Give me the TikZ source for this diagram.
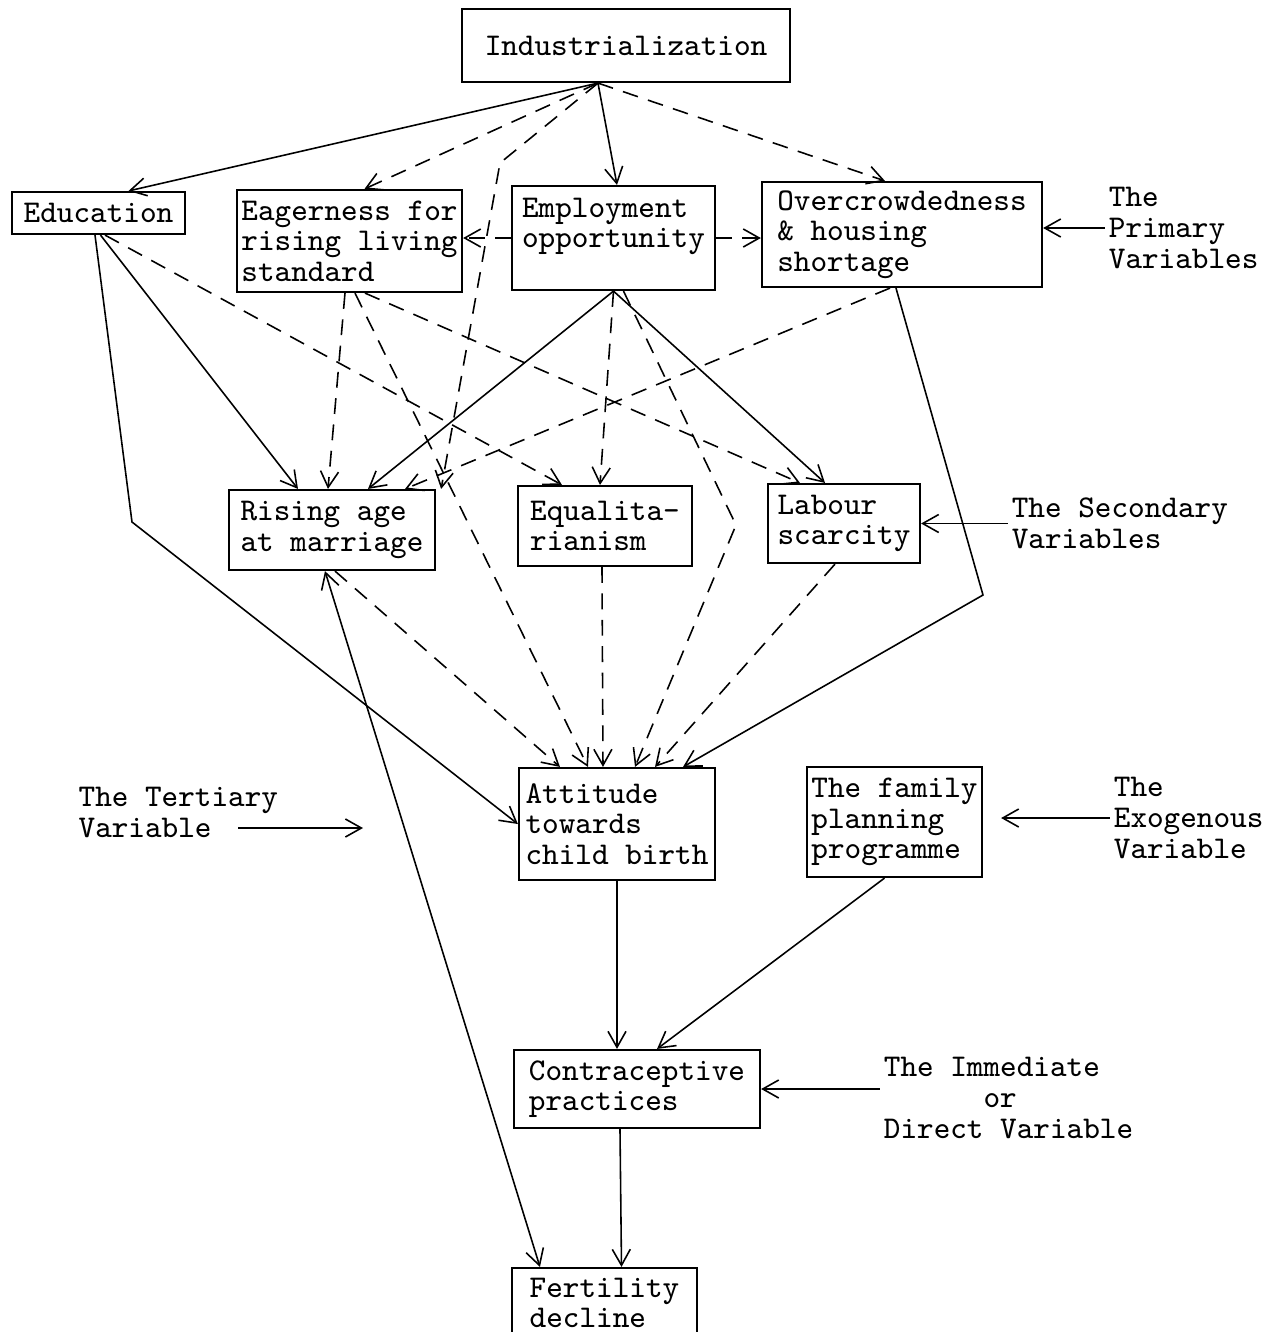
\documentclass[tikz,border=0pt]{standalone}
\usetikzlibrary{arrows.meta,positioning}

\begin{document}
\begin{tikzpicture}[x=0.01cm,y=-0.01cm,
    >={Straight Barb[length=1.6mm,width=1.8mm]},
    font=\ttfamily\fontsize{9}{8.7}\selectfont,
    box/.style={draw,line width=0.6pt,inner sep=0pt,align=left},
    varlabel/.style={inner sep=1pt,align=left},
    link/.style={->,line width=0.45pt},
    dlink/.style={->,line width=0.45pt,dash pattern=on 4.5pt off 3pt}]
    \clip (0,0) rectangle (1281,1332);

    % Define boxes
    \node[box,minimum width=3.28cm,minimum height=0.73cm] (ind) at (626,45.5) {Industrialization};
    \node[box,minimum width=1.73cm,minimum height=0.42cm] (edu) at (98.5,213) {Education};
    \node[box,minimum width=2.25cm,minimum height=1.02cm] (eag) at (349.5,241) {Eagerness for\\rising living\\standard};
    \node[box,minimum width=2.03cm,minimum height=1.04cm] (emp) at (613.5,238) {Employment\\opportunity\\\mbox{}};
    \node[box,minimum width=2.80cm,minimum height=1.05cm] (ovc) at (902,234.5) {Overcrowdedness\\\& housing\\shortage};
    \node[box,minimum width=2.06cm,minimum height=0.80cm] (ris) at (332,530) {Rising age\\at marriage};
    \node[box,minimum width=1.74cm,minimum height=0.80cm] (equ) at (605,526) {Equalita-\\rianism};
    \node[box,minimum width=1.52cm,minimum height=0.79cm] (lab) at (844,523.5) {Labour\\scarcity};
    \node[box,minimum width=1.96cm,minimum height=1.12cm] (att) at (617,824) {Attitude\\towards\\child birth};
    \node[box,minimum width=1.75cm,minimum height=1.10cm] (fam) at (894.5,822) {The family\\planning\\programme};
    \node[box,minimum width=2.46cm,minimum height=0.78cm] (con) at (637,1089) {Contraceptive\\practices};
    \node[box,minimum width=1.85cm,minimum height=0.70cm] (fer) at (604.5,1303) {Fertility\\decline};

    % Variable labels
    \node[varlabel,right=0.615cm of ovc,yshift=0.065cm] (prim) {The\\Primary\\Variables};
    \node[varlabel,right=0.865cm of lab] (sec) {The Secondary\\Variables};
    \node[varlabel,left=2.355cm of att,yshift=0.115cm] (tert) {The Tertiary\\Variable};
    \node[varlabel,right=1.265cm of fam,yshift=0.04cm] (exo) {The\\Exogenous\\Variable};
    \node[varlabel,right=1.185cm of con,yshift=-0.09cm] (imm) {The Immediate\\\phantom{The Im}or\\Direct Variable};

    % Bend points
    \coordinate (bendI) at (500,163);
    \coordinate (bendE) at (132,522);
    \coordinate (bendM) at (736,525);
    \coordinate (bendO) at (983,595);
    \coordinate (tstart) at (238,828);
    \coordinate (tend) at (363,828);

    % Draw solid links
    \draw[link] ([xshift=-0.28cm]ind.south) -- ([xshift=0.3cm]edu.north);
    \draw[link] ([xshift=-0.28cm]ind.south) -- ([xshift=0.035cm]emp.north);
    \draw[link] ([xshift=-0.035cm]edu.south) -- (bendE) -- (att.west);
    \draw[link] ([xshift=0.02cm]edu.south) -- ([xshift=-0.34cm]ris.north);
    \draw[link] (emp.south) -- ([xshift=0.36cm]ris.north);
    \draw[link] (emp.south) -- ([xshift=-0.19cm]lab.north);
    \draw[link] ([xshift=-0.06cm]ovc.south) -- (bendO) -- ([xshift=0.66cm]att.north);
    \draw[link,<->] ([xshift=-0.07cm]ris.south) -- ([xshift=-0.645cm]fer.north);
    \draw[link] (att.south) -- (att.south |- con.north);
    \draw[link] ([xshift=-0.1cm]fam.south) -- ([xshift=0.2cm]con.north);
    \draw[link] ([xshift=-0.17cm]con.south) -- ([xshift=0.17cm]fer.north);

    % Draw dashed links
    \draw[dlink] ([xshift=-0.28cm]ind.south) -- ([xshift=0.15cm]eag.north);
    \draw[dlink] ([xshift=-0.28cm]ind.south) -- (bendI) -- ([xshift=0.05cm]ris.north east);
    \draw[dlink] ([xshift=-0.28cm]ind.south) -- ([xshift=-0.17cm]ovc.north);
    \draw[dlink] (emp.west) -- (emp.west -| eag.east);
    \draw[dlink] (emp.east) -- (emp.east -| ovc.west);
    \draw[dlink] ([xshift=0.065cm]edu.south) -- ([xshift=-0.43cm]equ.north);
    \draw[dlink] ([xshift=-0.045cm]eag.south) -- ([xshift=-0.04cm]ris.north);
    \draw[dlink] ([xshift=0.055cm]eag.south) -- ([xshift=-0.29cm]att.north);
    \draw[dlink] ([xshift=0.155cm]eag.south) -- ([xshift=-0.44cm]lab.north);
    \draw[dlink] (emp.south) -- ([xshift=-0.05cm]equ.north);
    \draw[dlink] ([xshift=0.1cm]emp.south) -- (bendM) -- ([xshift=0.18cm]att.north);
    \draw[dlink] ([xshift=-0.12cm]ovc.south) -- ([xshift=0.73cm]ris.north);
    \draw[dlink] ([xshift=0.03cm]ris.south) -- ([xshift=-0.57cm]att.north);
    \draw[dlink] ([xshift=-0.03cm]equ.south) -- ([xshift=-0.14cm]att.north);
    \draw[dlink] ([xshift=-0.09cm]lab.south) -- ([xshift=0.38cm]att.north);

    % Label arrows
    \draw[link] (prim.west) -- (prim.west -| ovc.east);
    \draw[link] (sec.west) -- (sec.west -| lab.east);
    \draw[link] (tstart) -- (tend);
    \draw[link,shorten >=0.18cm] (exo.west) -- (exo.west -| fam.east);
    \draw[link] (imm.west |- con.east) -- (con.east);
\end{tikzpicture}
\end{document}
